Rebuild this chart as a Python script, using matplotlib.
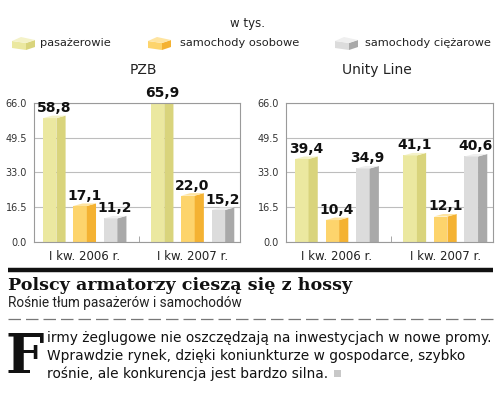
import numpy as np
import matplotlib.pyplot as plt
from matplotlib.patches import Polygon, Rectangle

# data (thousands)
series = ['pasażerowie', 'samochody osobowe', 'samochody ciężarowe']
periods = ['I kw. 2006 r.', 'I kw. 2007 r.']
pzb = [[58.8, 65.9], [17.1, 22.0], [11.2, 15.2]]
unity = [[39.4, 41.1], [10.4, 12.1], [34.9, 40.6]]
yticks = [0.0, 16.5, 33.0, 49.5, 66.0]

front = ['#ebe8a0', '#fdd46c', '#dcdcdc']
side = ['#d9d47c', '#f4b232', '#a9a9a9']
top = ['#f4f2c8', '#fee4a0', '#efefef']

W, H = 500, 397
fig = plt.figure(figsize=(W/100, H/100), dpi=100)

def box(ax, x0, v, wf, ws, d, i):
    ax.add_patch(Rectangle((x0, 0), wf, v, fc=front[i], ec='none'))
    ax.add_patch(Polygon([(x0+wf, 0), (x0+wf+ws, 0), (x0+wf+ws, v+d), (x0+wf, v)],
                         fc=side[i], ec='none'))
    ax.add_patch(Polygon([(x0, v), (x0+wf, v), (x0+wf+ws, v+d), (x0+ws, v+d)],
                         fc=top[i], ec='none'))

def panel(rect, data, title, tx):
    ax = fig.add_axes(rect)
    off = 0.282
    wf, ws = 0.125, 0.085
    for i, vals in enumerate(data):
        for g, v in enumerate(vals):
            xc = g + (i-1)*off
            box(ax, xc-(wf+ws)/2, v, wf, ws, 1.2, i)
            ax.text(xc, v+1.5, f'{v:.1f}'.replace('.', ','), ha='center', va='bottom',
                    fontsize=10, fontweight='bold', color='#111')
    ax.set_xlim(-0.47, 1.44)
    ax.set_ylim(0, 66)
    ax.set_yticks(yticks)
    ax.set_yticklabels([f'{t:.1f}' for t in yticks])
    ax.grid(axis='y', color='#bdbdbd', lw=0.8)
    ax.set_axisbelow(True)
    ax.set_xticks([0, 1])
    ax.set_xticklabels(periods)
    ax.set_xticks([0.5], minor=True)
    ax.tick_params(axis='x', which='major', length=0, pad=6, labelsize=8.5, labelcolor='#222')
    ax.tick_params(axis='x', which='minor', direction='in', length=4, color='#999')
    ax.tick_params(axis='y', length=0, pad=5, labelsize=7, labelcolor='#333')
    for s in ax.spines.values():
        s.set_color('#9a9a9a')
        s.set_linewidth(0.8)
    fig.text(tx/W, 1-70/H, title, ha='center', va='center', fontsize=10, color='#222')
    return ax

panel([34/W, 1-242/H, 206/W, 139/H], pzb, 'PZB', 143)
panel([286/W, 1-242/H, 207/W, 139/H], unity, 'Unity Line', 377)

# overlay for legend and article text
bg = fig.add_axes([0, 0, 1, 1], zorder=-1)
bg.set_xlim(0, W)
bg.set_ylim(H, 0)
bg.axis('off')

fig.text(248/W, 1-24/H, 'w tys.', ha='center', va='center', fontsize=8.5, color='#222')
for i, (lx, tx) in enumerate([(12, 40), (148, 180), (335, 365)]):
    bg.add_patch(Polygon([(lx, 41), (lx+14, 43), (lx+14, 50), (lx, 48)], fc=front[i], ec='none'))
    bg.add_patch(Polygon([(lx+14, 43), (lx+23, 40), (lx+23, 47), (lx+14, 50)], fc=side[i], ec='none'))
    bg.add_patch(Polygon([(lx, 41), (lx+14, 43), (lx+23, 40), (lx+9, 37)], fc=top[i], ec='none'))
    fig.text(tx/W, 1-43/H, series[i], ha='left', va='center', fontsize=8.2, color='#222')

bg.plot([8, 493], [270, 270], color='#111', lw=3.2, solid_capstyle='butt')
fig.text(8/W, 1-285/H, 'Polscy armatorzy cieszą się z hossy', ha='left', va='center',
         fontsize=12.6, fontweight='bold', family='DejaVu Serif', color='#111')
fig.text(8/W, 1-303/H, 'Rośnie tłum pasażerów i samochodów', ha='left', va='center',
         fontsize=9.8, family='Roboto', color='#222')
bg.plot([8, 493], [319, 319], color='#777', lw=0.9, dashes=(10, 4))

fig.text(6/W, 1-358/H, 'F', ha='left', va='center', fontsize=39, fontweight='bold',
         family='DejaVu Serif', color='#111')
lines = ['irmy żeglugowe nie oszczędzają na inwestycjach w nowe promy.',
         'Wprawdzie rynek, dzięki koniunkturze w gospodarce, szybko',
         'rośnie, ale konkurencja jest bardzo silna.']
txts = []
for k, ln in enumerate(lines):
    txts.append(fig.text(47/W, 1-(338+18*k)/H, ln, ha='left', va='center',
                         fontsize=9.9, color='#111'))

# gray end mark right after the last line
r = fig.canvas.get_renderer()
bb = txts[-1].get_window_extent(r)
bg.add_patch(Rectangle((bb.x1 + 6, 370), 7, 7, fc='#c8c8c8', ec='none'))

fig.savefig('out.png', dpi=100)
